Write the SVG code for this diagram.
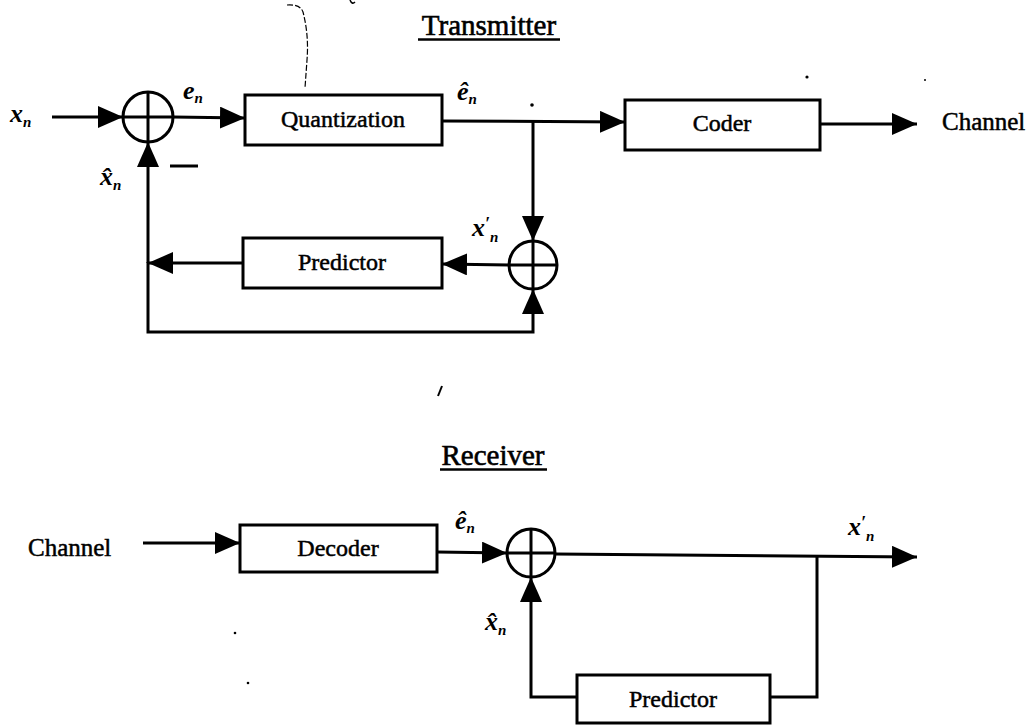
<svg xmlns="http://www.w3.org/2000/svg" width="1034" height="726" viewBox="0 0 1034 726">
<defs>
<style>
.ln{stroke:#000;stroke-width:3;fill:none}
.box{fill:#fff;stroke:#000;stroke-width:3}
.sum{fill:#fff;stroke:#000;stroke-width:3}
.lbl{font-family:"Liberation Serif",serif;font-size:24px;text-anchor:middle;fill:#000;stroke:#000;stroke-width:0.5}
.ttl{font-family:"Liberation Serif",serif;font-size:29px;text-anchor:middle;fill:#000;stroke:#000;stroke-width:0.6}
.ch{font-family:"Liberation Serif",serif;font-size:25px;fill:#000;stroke:#000;stroke-width:0.5}
.m{font-family:"Liberation Serif",serif;font-style:italic;font-weight:bold;font-size:26px;fill:#000}
.s{font-size:15px}
.p{font-size:18px}
.noise{stroke:#000;stroke-width:1.2;fill:none;stroke-dasharray:6 2}
</style>
<marker id="ah" markerUnits="userSpaceOnUse" markerWidth="26" markerHeight="22" refX="25" refY="11" orient="auto">
<path d="M0,0 L25,11 L0,22 z" fill="#000"/>
</marker>
</defs>
<rect width="1034" height="726" fill="#fff"/>

<!-- titles -->
<g id="title-transmitter">
<text class="ttl" x="489" y="35">Transmitter</text>
<line x1="418" y1="39.5" x2="560" y2="39.5" stroke="#000" stroke-width="2.5"/>
</g>
<g id="title-receiver">
<text class="ttl" x="493" y="465">Receiver</text>
<line x1="440" y1="469.5" x2="547" y2="469.5" stroke="#000" stroke-width="2.5"/>
</g>

<!-- connectors -->
<g id="connectors">
<line class="ln" x1="52" y1="117" x2="123" y2="117" marker-end="url(#ah)"/>
<line class="ln" x1="173" y1="117" x2="245" y2="118" marker-end="url(#ah)"/>
<line class="ln" x1="442" y1="121" x2="625" y2="122" marker-end="url(#ah)"/>
<line class="ln" x1="820" y1="124" x2="917" y2="124" marker-end="url(#ah)"/>
<line class="ln" x1="533" y1="121" x2="533" y2="241" marker-end="url(#ah)"/>
<line class="ln" x1="509" y1="265" x2="442" y2="264" marker-end="url(#ah)"/>
<line class="ln" x1="243" y1="263" x2="148" y2="263" marker-end="url(#ah)"/>
<line class="ln" x1="148" y1="263" x2="148" y2="142" marker-end="url(#ah)"/>
<path class="ln" d="M148,262 L148,332 L533,332 L533,289" marker-end="url(#ah)"/>

<line class="ln" x1="143" y1="543" x2="240" y2="543" marker-end="url(#ah)"/>
<line class="ln" x1="437" y1="552" x2="507" y2="553" marker-end="url(#ah)"/>
<line class="ln" x1="555" y1="554" x2="917" y2="557" marker-end="url(#ah)"/>
<path class="ln" d="M817,556 L817,697 L770,697"/>
<path class="ln" d="M577,697 L531,697 L531,577" marker-end="url(#ah)"/>
</g>

<!-- transmitter nodes -->
<g id="sum1">
<circle class="sum" cx="148" cy="117" r="25"/>
<line class="ln" x1="123" y1="117" x2="173" y2="117"/>
<line class="ln" x1="148" y1="92" x2="148" y2="142"/>
</g>
<g id="quantization">
<rect class="box" x="245" y="95" width="197" height="50"/>
<text class="lbl" x="343" y="127">Quantization</text>
</g>
<g id="coder">
<rect class="box" x="625" y="100" width="195" height="50"/>
<text class="lbl" x="722" y="131">Coder</text>
</g>
<g id="channel-out">
<text class="ch" x="942" y="130">Channel</text>
</g>
<g id="sum2">
<circle class="sum" cx="533" cy="265" r="24"/>
<line class="ln" x1="509" y1="265" x2="557" y2="265"/>
<line class="ln" x1="533" y1="241" x2="533" y2="289"/>
</g>
<g id="predictor-tx">
<rect class="box" x="243" y="238" width="199" height="50"/>
<text class="lbl" x="342" y="270">Predictor</text>
</g>

<!-- receiver nodes -->
<g id="channel-in">
<text class="ch" x="28" y="556">Channel</text>
</g>
<g id="decoder">
<rect class="box" x="240" y="525" width="197" height="47"/>
<text class="lbl" x="338" y="556">Decoder</text>
</g>
<g id="sum3">
<circle class="sum" cx="531" cy="553" r="24"/>
<line class="ln" x1="507" y1="553" x2="555" y2="553"/>
<line class="ln" x1="531" y1="529" x2="531" y2="577"/>
</g>
<g id="predictor-rx">
<rect class="box" x="577" y="675" width="193" height="48"/>
<text class="lbl" x="673" y="707">Predictor</text>
</g>

<!-- signal labels -->
<g id="labels">
<text class="m" x="10" y="122">x<tspan class="s" dy="5">n</tspan></text>
<text class="m" x="183" y="99">e<tspan class="s" dy="4">n</tspan></text>
<line x1="170" y1="166" x2="198" y2="166" stroke="#000" stroke-width="3"/>
<text class="m" x="100" y="185">x̂<tspan class="s" dy="5">n</tspan></text>
<text class="m" x="457" y="100">ê<tspan class="s" dy="4">n</tspan></text>
<text class="m" x="472" y="236">x<tspan class="p" dy="-6">′</tspan><tspan class="s" dy="12">n</tspan></text>
<text class="m" x="455" y="529">ê<tspan class="s" dy="4">n</tspan></text>
<text class="m" x="485" y="630">x̂<tspan class="s" dy="5">n</tspan></text>
<text class="m" x="848" y="535">x<tspan class="p" dy="-6">′</tspan><tspan class="s" dy="12">n</tspan></text>
</g>

<!-- scan marks -->
<g id="marks">
<path class="noise" d="M287,5 Q300,4 303,12 Q309,35 307,60 L305,88"/>
<path d="M350,0 Q352,5 355,2" stroke="#000" stroke-width="1.5" fill="none"/>
<path d="M438,396 L442,386" stroke="#000" stroke-width="2" fill="none"/>
<circle cx="532" cy="105" r="1.8"/>
<circle cx="807" cy="77" r="1.6"/>
<circle cx="925" cy="80" r="1"/>
<circle cx="235" cy="633" r="1.3"/>
<circle cx="248" cy="683" r="1.3"/>
</g>
</svg>
